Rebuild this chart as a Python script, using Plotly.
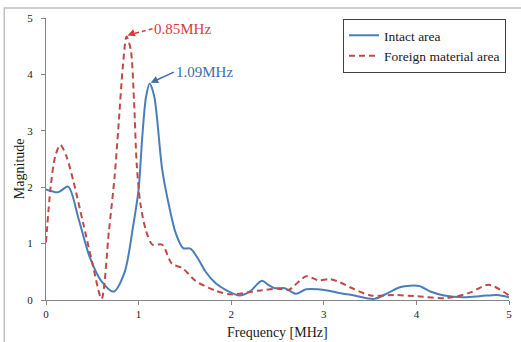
import plotly.graph_objects as go

# Intact area (blue)
freq_intact = [0, 0.13, 0.24, 0.35, 0.47, 0.6, 0.73, 0.85, 0.94, 1.0, 1.04, 1.08, 1.12, 1.17,
               1.255, 1.33, 1.40, 1.48, 1.56, 1.65, 1.72, 1.83, 1.94, 2.09, 2.2, 2.33, 2.40,
               2.47, 2.58, 2.70, 2.81, 3.04, 3.15, 3.33, 3.545, 3.7, 3.83, 4.03, 4.15, 4.30,
               4.51, 4.70, 4.87, 5.0]
mag_intact = [1.96, 1.91, 2.01, 1.45, 0.77, 0.33, 0.15, 0.5, 1.3, 1.96, 2.9, 3.6, 3.84, 3.6,
              2.31, 1.66, 1.19, 0.92, 0.91, 0.71, 0.51, 0.30, 0.18, 0.08, 0.15, 0.34, 0.27,
              0.21, 0.21, 0.11, 0.19, 0.17, 0.13, 0.08, 0.02, 0.13, 0.23, 0.25, 0.15, 0.08,
              0.05, 0.07, 0.09, 0.05]

# Foreign material area (red dashed)
freq_foreign = [0, 0.05, 0.1, 0.155, 0.22, 0.3, 0.4, 0.5, 0.6, 0.68, 0.74, 0.78, 0.83, 0.87,
                0.915, 0.95, 0.98, 1.02, 1.08, 1.15, 1.255, 1.36, 1.47, 1.615, 1.83, 2.0, 2.29,
                2.51, 2.62, 2.81, 2.94, 3.06, 3.15, 3.33, 3.51, 3.76, 4.01, 4.33, 4.58, 4.78, 5.0]
mag_foreign = [1.02, 2.0, 2.55, 2.75, 2.55, 2.08, 1.37, 0.66, 0.02, 1.23, 2.17, 3.02, 4.14, 4.67,
               4.44, 3.55, 2.4, 1.70, 1.23, 0.98, 0.98, 0.64, 0.57, 0.34, 0.165, 0.10, 0.165,
               0.20, 0.18, 0.42, 0.35, 0.37, 0.33, 0.19, 0.08, 0.09, 0.065, 0.035, 0.13, 0.27, 0.08]

x_ticks = [0, 1, 2, 3, 4, 5]
y_ticks = [0, 1, 2, 3, 4, 5]

peak_foreign = (0.88, 4.69)
peak_intact = (1.13, 3.85)
label_foreign = "0.85MHz"
label_intact = "1.09MHz"

BLUE = "#4A7EBB"
RED = "#BE4B48"
FONT = "Liberation Serif"

fig = go.Figure()
fig.add_trace(go.Scatter(x=freq_intact, y=mag_intact, mode="lines", name="Intact area",
                         line=dict(color=BLUE, width=2, shape="spline", smoothing=0.8)))
fig.add_trace(go.Scatter(x=freq_foreign, y=mag_foreign, mode="lines", name="Foreign material area",
                         line=dict(color=RED, width=2, dash="6px,4px", shape="spline", smoothing=0.8)))

W, H = 521, 342
L, R, T, B = 46, 9, 18, 42
pw, ph = W - L - R, H - T - B

def px2paper(px, py):
    return (px - L) / pw, (H - B - py) / ph

# chart border (top & left visible)
bx0, by1 = px2paper(4, 8)
bx1, by0 = px2paper(530, 352)
fig.add_shape(type="rect", xref="paper", yref="paper", x0=bx0, x1=bx1, y0=by0, y1=by1,
              line=dict(color="#BFBFBF", width=1.5), layer="below")

# 0.85MHz annotation (dashed arrow)
fig.add_annotation(x=peak_foreign[0] + 0.27, y=peak_foreign[1] + 0.12, xref="x", yref="y",
                   text=label_foreign, showarrow=False, xanchor="left", yanchor="middle",
                   font=dict(family=FONT, size=15, color="#D93A3A"))
fig.add_shape(type="line", xref="x", yref="y",
              x0=peak_foreign[0] + 0.27, y0=peak_foreign[1] + 0.12,
              x1=peak_foreign[0] + 0.08, y1=peak_foreign[1] + 0.04,
              line=dict(color="#D93A3A", width=1.5, dash="4px,3px"))
fig.add_annotation(x=peak_foreign[0], y=peak_foreign[1], xref="x", yref="y", text="",
                   showarrow=True, ax=8, ay=-3, arrowhead=2, arrowsize=1, arrowwidth=1.5,
                   arrowcolor="#D93A3A")

# 1.09MHz annotation
fig.add_annotation(x=peak_intact[0], y=peak_intact[1], xref="x", yref="y",
                   ax=peak_intact[0] + 0.25, ay=peak_intact[1] + 0.19, axref="x", ayref="y",
                   text=label_intact, showarrow=True, xanchor="left", yanchor="middle",
                   arrowhead=2, arrowsize=1, arrowwidth=1.5, arrowcolor="#3F6EAA",
                   font=dict(family=FONT, size=15, color="#3F6EAA"))

# axis titles
tx, ty = px2paper(20, 169)
fig.add_annotation(x=tx, y=ty, xref="paper", yref="paper", text="Magnitude", showarrow=False,
                   xanchor="center", yanchor="middle",
                   textangle=-90, font=dict(family=FONT, size=14, color="#1a1a1a"))
fx, fy = px2paper(279, 332)
fig.add_annotation(x=fx, y=fy, xref="paper", yref="paper", text="Frequency [MHz]", showarrow=False,
                   xanchor="center", yanchor="middle",
                   font=dict(family=FONT, size=14, color="#1a1a1a"))

lx, ly = px2paper(509, 19)
fig.update_layout(
    width=W, height=H,
    margin=dict(l=L, r=R, t=T, b=B),
    paper_bgcolor="white", plot_bgcolor="white",
    font=dict(family=FONT, size=11, color="#1a1a1a"),
    showlegend=True,
    legend=dict(x=lx, y=ly, xanchor="right", yanchor="top",
                bordercolor="#404040", borderwidth=1, bgcolor="white",
                font=dict(family=FONT, size=13.5, color="#1a1a1a"),
                itemwidth=30, tracegroupgap=0),
    xaxis=dict(range=[0, 5], tickvals=x_ticks, showgrid=False, zeroline=False,
               showline=True, linecolor="#868686", linewidth=1,
               ticks="outside", ticklen=4, tickcolor="#868686",
               tickfont=dict(family=FONT, size=11, color="#1a1a1a")),
    yaxis=dict(range=[0, 5], tickvals=y_ticks, showgrid=False, zeroline=False,
               showline=True, linecolor="#868686", linewidth=1,
               ticks="outside", ticklen=4, ticklabelstandoff=6, tickcolor="#868686",
               tickfont=dict(family=FONT, size=11, color="#1a1a1a")),
)

fig.write_html("out.html")
